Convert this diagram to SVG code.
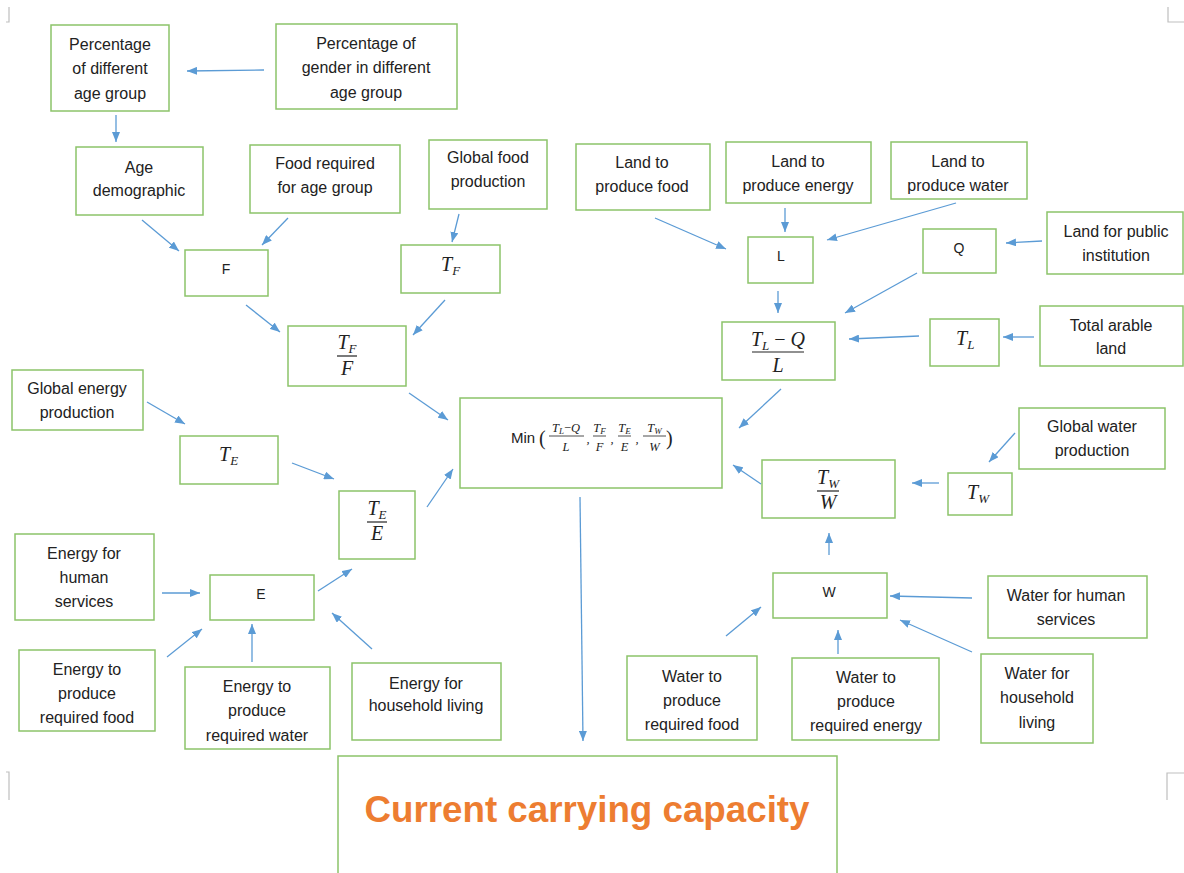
<svg xmlns="http://www.w3.org/2000/svg" width="1184" height="873" viewBox="0 0 1184 873">
<defs>
<style>
.box{fill:#fff;stroke:#8CC36A;stroke-width:1.5}
.t{font-family:"Liberation Sans",Arial,sans-serif;font-size:16px;fill:#222;text-anchor:middle}
.m{font-family:"Liberation Serif","Times New Roman",serif;font-style:italic;font-size:20px;fill:#222}
.mc{font-family:"Liberation Serif","Times New Roman",serif;font-style:italic;font-size:20px;fill:#222;text-anchor:middle}
.s{font-size:13px}
.fm{font-family:"Liberation Serif","Times New Roman",serif;font-style:italic;font-size:12.5px;fill:#222;text-anchor:middle}
.fl{stroke:#222;stroke-width:1.2}
.fls{stroke:#222;stroke-width:0.8}
.c line{stroke:#5B9BD5;stroke-width:1.3;marker-end:url(#ah)}
.crop{stroke:#BFBFBF;stroke-width:1.2;fill:none}
</style>
<marker id="ah" viewBox="0 0 10 8" refX="10" refY="4" markerWidth="10" markerHeight="8" markerUnits="userSpaceOnUse" orient="auto">
<path d="M0,0 L10,4 L0,8 z" fill="#5B9BD5"/>
</marker>
</defs>
<rect x="0" y="0" width="1184" height="873" fill="#fff"/>
<g id="cropmarks">
<path class="crop" d="M9,7 V22 H6"/>
<path class="crop" d="M1168,7 V22 H1184"/>
<path class="crop" d="M9,800 V772 H6"/>
<path class="crop" d="M1167,800 V773 H1184"/>
</g>

<g id="n_pct_age"><rect class="box" x="51" y="25" width="118" height="86"/>
<text class="t" x="110" y="49.5">Percentage</text><text class="t" x="110" y="73.5">of different</text><text class="t" x="110" y="98.5">age group</text></g>
<g id="n_pct_gender"><rect class="box" x="276" y="24" width="181" height="85"/>
<text class="t" x="366" y="48.5">Percentage of</text><text class="t" x="366" y="72.5">gender in different</text><text class="t" x="366" y="97.5">age group</text></g>
<g id="n_age_demo"><rect class="box" x="76" y="147" width="127" height="68"/>
<text class="t" x="139" y="172.5">Age</text><text class="t" x="139" y="195.5">demographic</text></g>
<g id="n_food_req"><rect class="box" x="250" y="145" width="150" height="68"/>
<text class="t" x="325" y="168.5">Food required</text><text class="t" x="325" y="192.5">for age group</text></g>
<g id="n_global_food"><rect class="box" x="429" y="140" width="118" height="69"/>
<text class="t" x="488" y="162.5">Global food</text><text class="t" x="488" y="186.5">production</text></g>
<g id="n_F"><rect class="box" x="185" y="250" width="83" height="46"/>
<text class="t" x="226" y="273.5" style="font-size:14px">F</text></g>
<g id="n_TF"><rect class="box" x="401" y="245" width="99" height="48"/>
<text class="m" x="441" y="271">T<tspan class="s" dy="4">F</tspan></text></g>
<g id="n_TF_F"><rect class="box" x="288" y="326" width="118" height="60"/>
<text class="mc" x="347" y="349">T<tspan class="s" dy="4">F</tspan></text>
<line class="fl" x1="337" y1="356" x2="357" y2="356"/>
<text class="mc" x="347" y="375">F</text></g>
<g id="n_GEP"><rect class="box" x="12" y="370" width="131" height="60"/>
<text class="t" x="77" y="393.5">Global energy</text><text class="t" x="77" y="417.5">production</text></g>
<g id="n_TE"><rect class="box" x="180" y="436" width="98" height="48"/>
<text class="m" x="219" y="461">T<tspan class="s" dy="4">E</tspan></text></g>
<g id="n_TE_E"><rect class="box" x="339" y="491" width="76" height="68"/>
<text class="mc" x="377" y="515">T<tspan class="s" dy="4">E</tspan></text>
<line class="fl" x1="367" y1="522" x2="387" y2="522"/>
<text class="mc" x="377" y="540">E</text></g>
<g id="n_Min"><rect class="box" x="460" y="398" width="262" height="90"/>
<text class="t" x="511" y="443" style="text-anchor:start;font-size:15px">Min</text>
<text x="539" y="445" style="font-family:'Liberation Serif',serif;font-size:20px;fill:#222">(</text>
<text class="fm" x="566" y="432">T<tspan font-size="9" dy="2">L</tspan><tspan dy="-2" font-style="normal">−</tspan>Q</text>
<line class="fls" x1="549" y1="436" x2="584" y2="436"/>
<text class="fm" x="566" y="451">L</text>
<text class="fm" x="588" y="443">,</text>
<text class="fm" x="599.5" y="432">T<tspan font-size="9" dy="2">F</tspan></text>
<line class="fls" x1="593" y1="436" x2="606" y2="436"/>
<text class="fm" x="599.5" y="451">F</text>
<text class="fm" x="612" y="443">,</text>
<text class="fm" x="624.5" y="432">T<tspan font-size="9" dy="2">E</tspan></text>
<line class="fls" x1="618" y1="436" x2="631" y2="436"/>
<text class="fm" x="624.5" y="451">E</text>
<text class="fm" x="637" y="443">,</text>
<text class="fm" x="654.5" y="432">T<tspan font-size="9" dy="2">W</tspan></text>
<line class="fls" x1="643" y1="436" x2="666" y2="436"/>
<text class="fm" x="654.5" y="451">W</text>
<text x="666" y="445" style="font-family:'Liberation Serif',serif;font-size:20px;fill:#222">)</text></g>
<g id="n_EHS"><rect class="box" x="15" y="534" width="139" height="86"/>
<text class="t" x="84" y="558.5">Energy for</text><text class="t" x="84" y="582.5">human</text><text class="t" x="84" y="606.5">services</text></g>
<g id="n_E"><rect class="box" x="210" y="575" width="104" height="45"/>
<text class="t" x="261" y="598.5" style="font-size:14px">E</text></g>
<g id="n_EPF"><rect class="box" x="19" y="650" width="136" height="81"/>
<text class="t" x="87" y="674.5">Energy to</text><text class="t" x="87" y="698.5">produce</text><text class="t" x="87" y="722.5">required food</text></g>
<g id="n_EPW"><rect class="box" x="185" y="667" width="145" height="82"/>
<text class="t" x="257" y="691.5">Energy to</text><text class="t" x="257" y="715.5">produce</text><text class="t" x="257" y="740.5">required water</text></g>
<g id="n_EHL"><rect class="box" x="352" y="663" width="149" height="77"/>
<text class="t" x="426" y="688.5">Energy for</text><text class="t" x="426" y="710.5">household living</text></g>
<g id="n_LPF"><rect class="box" x="576" y="144" width="134" height="66"/>
<text class="t" x="642" y="167.5">Land to</text><text class="t" x="642" y="191.5">produce food</text></g>
<g id="n_LPE"><rect class="box" x="726" y="142" width="145" height="61"/>
<text class="t" x="798" y="166.5">Land to</text><text class="t" x="798" y="190.5">produce energy</text></g>
<g id="n_LPW"><rect class="box" x="891" y="142" width="136" height="57"/>
<text class="t" x="958" y="166.5">Land to</text><text class="t" x="958" y="190.5">produce water</text></g>
<g id="n_L"><rect class="box" x="748" y="237" width="65" height="46"/>
<text class="t" x="781" y="260.5" style="font-size:14px">L</text></g>
<g id="n_Q"><rect class="box" x="923" y="229" width="73" height="44"/>
<text class="t" x="959" y="252.5" style="font-size:14px">Q</text></g>
<g id="n_LPI"><rect class="box" x="1047" y="212" width="136" height="62"/>
<text class="t" x="1116" y="236.5">Land for public</text><text class="t" x="1116" y="260.5">institution</text></g>
<g id="n_TLQ"><rect class="box" x="722" y="322" width="113" height="58"/>
<text class="mc" x="778" y="346">T<tspan class="s" dy="4">L</tspan><tspan dy="-4" font-style="normal"> − </tspan>Q</text>
<line class="fl" x1="752" y1="352" x2="804" y2="352"/>
<text class="mc" x="778" y="372">L</text></g>
<g id="n_TL"><rect class="box" x="930" y="319" width="69" height="47"/>
<text class="m" x="956" y="345">T<tspan class="s" dy="4">L</tspan></text></g>
<g id="n_TAL"><rect class="box" x="1040" y="306" width="143" height="60"/>
<text class="t" x="1111" y="330.5">Total arable</text><text class="t" x="1111" y="353.5">land</text></g>
<g id="n_GWP"><rect class="box" x="1019" y="408" width="146" height="61"/>
<text class="t" x="1092" y="431.5">Global water</text><text class="t" x="1092" y="455.5">production</text></g>
<g id="n_TW"><rect class="box" x="948" y="473" width="64" height="42"/>
<text class="m" x="967" y="499">T<tspan class="s" dy="4">W</tspan></text></g>
<g id="n_TW_W"><rect class="box" x="762" y="460" width="133" height="58"/>
<text class="mc" x="828" y="484">T<tspan class="s" dy="4">W</tspan></text>
<line class="fl" x1="817" y1="491" x2="839" y2="491"/>
<text class="mc" x="828" y="509">W</text></g>
<g id="n_W"><rect class="box" x="773" y="573" width="114" height="45"/>
<text class="t" x="829" y="596.5" style="font-size:14px">W</text></g>
<g id="n_WHS"><rect class="box" x="988" y="576" width="159" height="62"/>
<text class="t" x="1066" y="600.5">Water for human</text><text class="t" x="1066" y="624.5">services</text></g>
<g id="n_WPF"><rect class="box" x="627" y="656" width="130" height="84"/>
<text class="t" x="692" y="681.5">Water to</text><text class="t" x="692" y="705.5">produce</text><text class="t" x="692" y="729.5">required food</text></g>
<g id="n_WPE"><rect class="box" x="792" y="658" width="147" height="82"/>
<text class="t" x="866" y="682.5">Water to</text><text class="t" x="866" y="706.5">produce</text><text class="t" x="866" y="730.5">required energy</text></g>
<g id="n_WHL"><rect class="box" x="981" y="654" width="112" height="89"/>
<text class="t" x="1037" y="678.5">Water for</text><text class="t" x="1037" y="702.5">household</text><text class="t" x="1037" y="727.5">living</text></g>
<g id="n_CCC"><rect class="box" x="338" y="756" width="499" height="130"/>
<text x="587" y="822" text-anchor="middle" textLength="445" lengthAdjust="spacingAndGlyphs" style="font-family:'Liberation Sans',Arial,sans-serif;font-weight:bold;font-size:36px;fill:#ED7D31">Current carrying capacity</text></g>

<g id="connectors" class="c">
<line x1="264" y1="70" x2="187" y2="71"/>
<line x1="116" y1="115" x2="116" y2="142"/>
<line x1="142" y1="220" x2="179" y2="251"/>
<line x1="288" y1="218" x2="262" y2="245"/>
<line x1="459" y1="214" x2="452" y2="242"/>
<line x1="246" y1="305" x2="280" y2="332"/>
<line x1="445" y1="300" x2="413" y2="335"/>
<line x1="409" y1="393" x2="448" y2="420"/>
<line x1="147" y1="402" x2="185" y2="424"/>
<line x1="292" y1="463" x2="334" y2="479"/>
<line x1="427" y1="507" x2="453" y2="469"/>
<line x1="162" y1="593" x2="200" y2="593"/>
<line x1="318" y1="591" x2="352" y2="569"/>
<line x1="167" y1="657" x2="202" y2="629"/>
<line x1="252" y1="662" x2="252" y2="624"/>
<line x1="372" y1="649" x2="332" y2="613"/>
<line x1="655" y1="218" x2="726" y2="249"/>
<line x1="785" y1="208" x2="785" y2="232"/>
<line x1="956" y1="203" x2="827" y2="240"/>
<line x1="1042" y1="241" x2="1006" y2="243"/>
<line x1="917" y1="273" x2="845" y2="313"/>
<line x1="778" y1="291" x2="778" y2="313"/>
<line x1="1034" y1="337" x2="1003" y2="337"/>
<line x1="919" y1="336" x2="849" y2="339"/>
<line x1="781" y1="389" x2="739" y2="428"/>
<line x1="761" y1="484" x2="733" y2="465"/>
<line x1="939" y1="483" x2="912" y2="483"/>
<line x1="1015" y1="433" x2="989" y2="462"/>
<line x1="829" y1="555" x2="829" y2="533"/>
<line x1="972" y1="598" x2="890" y2="596"/>
<line x1="972" y1="652" x2="900" y2="620"/>
<line x1="838" y1="654" x2="838" y2="630"/>
<line x1="726" y1="636" x2="761" y2="607"/>
<line x1="580" y1="497" x2="583" y2="741"/>
</g>
</svg>
